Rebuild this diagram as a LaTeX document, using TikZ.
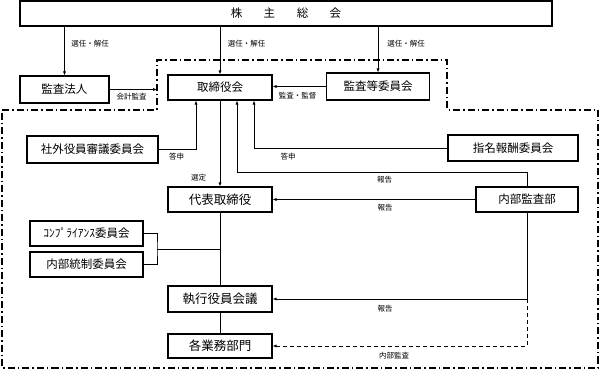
\documentclass[tikz,border=0pt]{standalone}
\usepackage{fontspec}
\setmainfont{Noto Sans CJK JP}
\usetikzlibrary{arrows.meta,calc}
\begin{document}
\begin{tikzpicture}[x=1pt,y=-1pt,
  box/.style={draw, line width=1.1pt, inner sep=0pt, font=\fontsize{11.5}{12}\selectfont},
  bigbox/.style={box, font=\fontsize{12.5}{13}\selectfont},
  lbl/.style={inner sep=0pt, font=\fontsize{7.5}{8}\selectfont},
  conn/.style={line width=0.9pt},
  arr/.style={conn, -{Latex[length=4pt,width=3.2pt]}},
  region/.style={line width=1.1pt, dash pattern=on 7pt off 3pt on 1.5pt off 3pt}]
\useasboundingbox (0,0) rectangle (600,371);
% region outline
\draw[region] (2,110) -- (157,110) -- (157,60) -- (447,60) -- (447,110) -- (598,110) -- (598,368) -- (2,368) -- cycle;
% boxes
\node[box, minimum width=532pt, minimum height=25pt] (top) at (286,13.5) {株\hspace{21.5pt}主\hspace{21.5pt}総\hspace{21.5pt}会};
\node[box, minimum width=89pt, minimum height=27pt] (kansa) at (64.5,89.5) {監査法人};
\node[box, minimum width=104pt, minimum height=25pt] (tori) at (220,87.5) {取締役会};
\node[box, minimum width=103pt, minimum height=27pt] (kiin) at (378,86.5) {監査等委員会};
\node[box, minimum width=131pt, minimum height=27pt] (shagai) at (92.5,149.5) {社外役員審議委員会};
\node[box, minimum width=130pt, minimum height=26pt] (shimei) at (513,148) {指名報酬委員会};
\node[bigbox, minimum width=104pt, minimum height=25pt] (daihyo) at (220,199.5) {代表取締役};
\node[box, minimum width=102pt, minimum height=25pt] (naibu) at (527,199.5) {内部監査部};
\node[box, minimum width=113pt, minimum height=25pt] (comp) at (86.5,233.5) {ｺﾝﾌﾟﾗｲｱﾝｽ委員会};
\node[box, minimum width=113pt, minimum height=25pt] (tosei) at (86.5,264.5) {内部統制委員会};
\node[bigbox, minimum width=104pt, minimum height=26pt] (shikko) at (220,299) {執行役員会議};
\node[bigbox, minimum width=104pt, minimum height=24pt] (gyomu) at (220,346) {各業務部門};
% coordinates
\coordinate (edge) at (157,0);
\coordinate (j) at (157,249);
% connectors
\draw[arr] (top.south -| kansa.north) -- (kansa.north);
\draw[arr] (top.south -| tori.north) -- (tori.north);
\draw[arr] (top.south -| kiin.north) -- (kiin.north);
\draw[arr] (kansa.east) -- (kansa.east -| edge);
\draw[arr] (kiin.west) -- (kiin.west -| tori.east);
\draw[arr] (shagai.east) -| ($(tori.south)+(-24,0)$);
\draw[arr] (tori.south) -- (daihyo.north);
\draw[arr] (shimei.west) -| ($(tori.south)+(34,0)$);
\draw[arr] (naibu.north) -- ++(0,-14) -| ($(tori.south)+(17,0)$);
\draw[arr] (naibu.west) -- (daihyo.east);
\draw[conn] (comp.east) -| (j) |- (tosei.east);
\draw[conn] (j) -- (j -| daihyo.south);
\draw[conn] (daihyo.south) -- (shikko.north);
\draw[conn] (shikko.south) -- (gyomu.north);
\draw[arr] (naibu.south) |- (shikko.east);
\draw[arr, dash pattern=on 4pt off 3pt] (naibu.south |- shikko.east) |- (gyomu.east);
% labels
\node[lbl] (l1) at (90,44) {選任・解任};
\node[lbl] (l2) at (246.5,44) {選任・解任};
\node[lbl] (l3) at (406,44) {選任・解任};
\node[lbl] (l4) at (131.5,97) {会計監査};
\node[lbl] (l5) at (297.5,96) {監査・監督};
\node[lbl] (l6) at (176.5,157) {答申};
\node[lbl] (l7) at (288,157) {答申};
\node[lbl] (l8) at (198.5,178) {選定};
\node[lbl] (l9) at (384.5,180) {報告};
\node[lbl] (l10) at (385,208) {報告};
\node[lbl] (l11) at (385,309) {報告};
\node[lbl] (l12) at (394,356) {内部監査};
\end{tikzpicture}
\end{document}
